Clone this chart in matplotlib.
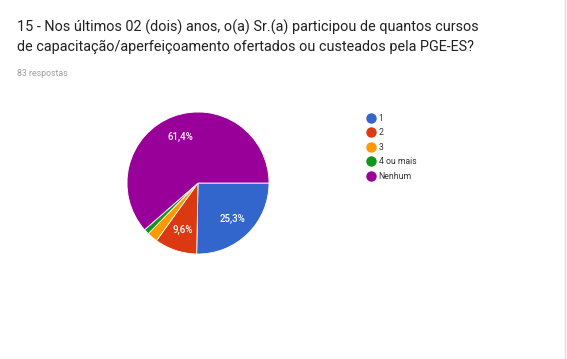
import matplotlib
matplotlib.use("Agg")
import matplotlib.pyplot as plt

labels = ["1", "2", "3", "4 ou mais", "Nenhum"]
counts = [21, 8, 2, 1, 51]
colors = ["#3366cc", "#dc3912", "#ff9900", "#109618", "#990099"]

title = ("15 - Nos últimos 02 (dois) anos, o(a) Sr.(a) participou de quantos cursos\n"
         "de capacitação/aperfeiçoamento ofertados ou custeados pela PGE-ES?")
subtitle = "83 respostas"

plt.rcParams["font.family"] = ["Roboto", "DejaVu Sans"]

W, H = 567, 359
fig = plt.figure(figsize=(W / 100, H / 100), dpi=100)
fig.patch.set_facecolor("white")

fig.text(17 / W, 1 - 20 / H, title, fontsize=10.4, color="#212121",
         va="top", ha="left", linespacing=1.45)
fig.text(17 / W, 1 - 73 / H, subtitle, fontsize=6.3, color="#9e9e9e",
         va="center", ha="left")

# pie axes: center (198, 183) px, radius ~71 px
cx, cy, r = 198, 183, 71
ax = fig.add_axes([(cx - r) / W, 1 - (cy + r) / H, 2 * r / W, 2 * r / H])


def pct(p):
    return f"{p:.1f}%".replace(".", ",") if p > 5 else ""


wedges, texts, autotexts = ax.pie(
    counts, colors=colors, startangle=0, counterclock=False,
    autopct=pct, pctdistance=0.7,
    wedgeprops=dict(edgecolor="white", linewidth=0.6),
    textprops=dict(color="white", fontsize=7, fontweight="medium"),
)
ax.set_xlim(-1, 1)
ax.set_ylim(-1, 1)
ax.set_aspect("equal")

handles = [plt.Line2D([], [], marker="o", linestyle="", color=c, markersize=6.5)
           for c in colors]
fig.legend(handles, labels, loc="upper left",
           bbox_to_anchor=(357 / W, 1 - 106 / H), frameon=False,
           fontsize=6.2, handletextpad=0.1, labelspacing=0.64,
           handlelength=1.5, labelcolor="#333333")

fig.add_artist(plt.Line2D([1 - 2 / W, 1 - 2 / W], [0, 1], color="#dddddd",
                          linewidth=1))

fig.savefig("out.png", dpi=100)
